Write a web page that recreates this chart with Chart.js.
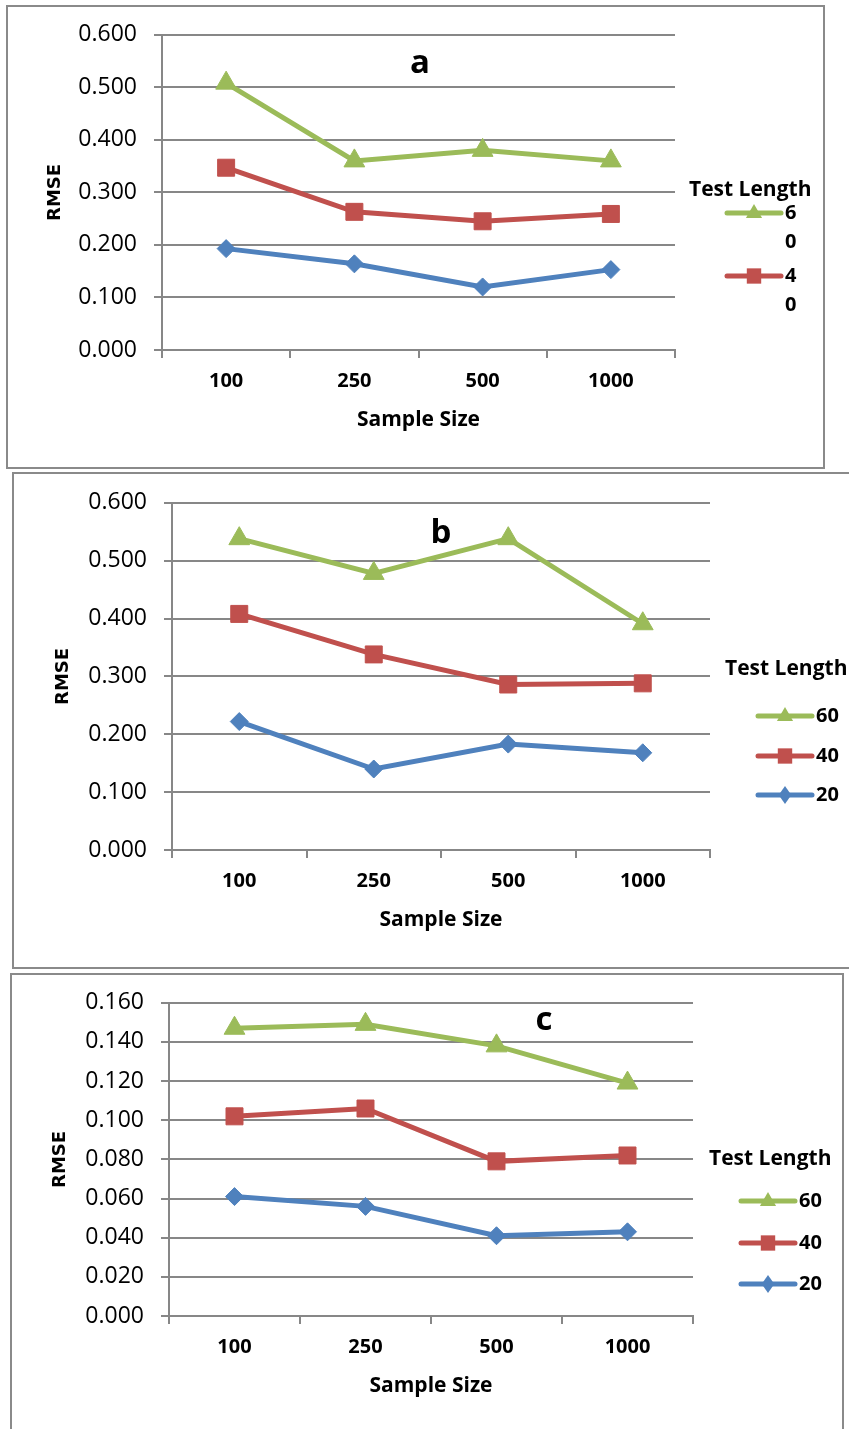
<!DOCTYPE html>
<html lang="en">
<head>
<meta charset="UTF-8">
<title>RMSE by Sample Size and Test Length</title>
<style>
    html, body {
        margin: 0;
        padding: 0;
        background: #fff;
        width: 849px;
        height: 1429px;
        overflow: hidden;
    }
    .frame {
        position: absolute;
        border: 2px solid #8a8a8a;
        box-sizing: border-box;
    }
    canvas {
        position: absolute;
        left: 0;
    }
</style>
<script src="https://cdn.jsdelivr.net/npm/chart.js"></script>
</head>
<body>
<div class="frame" style="left:6px;top:5px;width:819px;height:464px"></div>
<div class="frame" style="left:12px;top:472px;width:845px;height:497px"></div>
<div class="frame" style="left:10px;top:973px;width:834px;height:470px"></div>

<canvas id="chartA" width="849" height="446" style="top:4px"></canvas>
<canvas id="chartB" width="849" height="478" style="top:472px"></canvas>
<canvas id="chartC" width="849" height="444" style="top:972px"></canvas>

<script>
// data
const sampleSizes = ['100', '250', '500', '1000'];
const testLengths = ['20', '40', '60'];

const rmseA20 = [0.193, 0.164, 0.120, 0.153];
const rmseA40 = [0.347, 0.263, 0.245, 0.259];
const rmseA60 = [0.508, 0.360, 0.380, 0.360];

const rmseB20 = [0.222, 0.140, 0.183, 0.168];
const rmseB40 = [0.408, 0.338, 0.286, 0.288];
const rmseB60 = [0.538, 0.478, 0.538, 0.391];

const rmseC20 = [0.061, 0.056, 0.041, 0.043];
const rmseC40 = [0.102, 0.106, 0.079, 0.082];
const rmseC60 = [0.147, 0.149, 0.138, 0.119];

const yTicksA = [0, 0.1, 0.2, 0.3, 0.4, 0.5, 0.6];
const yTicksC = [0, 0.02, 0.04, 0.06, 0.08, 0.1, 0.12, 0.14, 0.16];

// look of each test length series
const seriesColor = { '20': '#4F81BD', '40': '#C0504D', '60': '#9BBB59' };
const seriesMarker = { '20': 'rectRot', '40': 'rect', '60': 'triangle' };
const seriesRadius = { '20': 9, '40': 12, '60': 12 };

const GRID = '#878787';
const FONT = '"Open Sans", "Liberation Sans", sans-serif';

// draws the small marker shapes used in the side legend
function legendMarker(ctx, style, x, y, r) {
    ctx.beginPath();
    if (style === 'triangle') {
        ctx.moveTo(x, y - r);
        ctx.lineTo(x + r * 0.9, y + r * 0.55);
        ctx.lineTo(x - r * 0.9, y + r * 0.55);
    } else if (style === 'rect') {
        ctx.rect(x - r * 0.8, y - r * 0.85, r * 1.6, r * 1.7);
    } else {
        ctx.moveTo(x, y - r);
        ctx.lineTo(x + r * 0.7, y);
        ctx.lineTo(x, y + r);
        ctx.lineTo(x - r * 0.7, y);
    }
    ctx.closePath();
    ctx.fill();
}

// "Test Length" legend on the right side of each panel
const sideLegend = {
    id: 'sideLegend',
    afterDraw(chart, args, o) {
        const ctx = chart.ctx;
        ctx.save();
        ctx.translate(0, -o.top);
        ctx.fillStyle = '#000';
        ctx.font = 'bold 21px ' + FONT;
        ctx.textBaseline = 'alphabetic';
        ctx.textAlign = 'left';
        ctx.fillText('Test Length', o.headX, o.headY);

        const items = chart.data.datasets.slice().reverse().slice(0, o.count);
        items.forEach((ds, i) => {
            const y = o.rows[i];
            ctx.strokeStyle = ds.borderColor;
            ctx.lineWidth = 5;
            ctx.lineCap = 'round';
            ctx.beginPath();
            ctx.moveTo(o.lineX0, y);
            ctx.lineTo(o.lineX1, y);
            ctx.stroke();
            ctx.fillStyle = ds.borderColor;
            legendMarker(ctx, ds.pointStyle, (o.lineX0 + o.lineX1) / 2, y, 9);

            ctx.fillStyle = '#000';
            ctx.font = 'bold 20px ' + FONT;
            ctx.textBaseline = 'middle';
            if (o.wrap) {
                ds.label.split('').forEach((ch, k) => ctx.fillText(ch, o.textX, y + k * o.wrap));
            } else {
                ctx.fillText(ds.label, o.textX, y);
            }
        });
        ctx.restore();
    }
};

// the panel letter inside the plot
const panelLetter = {
    id: 'panelLetter',
    afterDraw(chart, args, o) {
        const ctx = chart.ctx;
        ctx.save();
        ctx.fillStyle = '#000';
        ctx.font = 'bold 33px ' + FONT;
        ctx.textAlign = 'center';
        ctx.textBaseline = 'alphabetic';
        ctx.fillText(o.text, o.x, o.y - o.top);
        ctx.restore();
    }
};

function makePanel(id, values, yTicks, box) {
    const xH = 100;
    const canvas = document.getElementById(id);
    const datasets = testLengths.map((t, i) => ({
        label: t,
        data: values[i],
        borderColor: seriesColor[t],
        backgroundColor: seriesColor[t],
        borderWidth: 5,
        pointStyle: seriesMarker[t],
        pointRadius: seriesRadius[t],
        pointBorderWidth: 1,
        tension: 0,
        fill: false
    }));

    return new Chart(canvas, {
        type: 'line',
        data: { labels: sampleSizes, datasets: datasets },
        options: {
            responsive: false,
            animation: false,
            devicePixelRatio: 1,
            layout: {
                padding: {
                    left: 0,
                    right: 849 - box.right,
                    top: box.plotTop - box.top,
                    bottom: canvas.height - (box.plotBottom - box.top) - xH
                }
            },
            scales: {
                x: {
                    offset: true,
                    afterFit: s => { s.height = xH; },
                    grid: {
                        offset: true,
                        drawOnChartArea: false,
                        drawTicks: true,
                        tickLength: 8,
                        color: GRID,
                        lineWidth: 2
                    },
                    border: { display: true, color: GRID, width: 2 },
                    ticks: {
                        color: '#000',
                        padding: 11,
                        font: { family: FONT, size: 20, weight: 'bold', lineHeight: 1.2 }
                    },
                    title: {
                        display: true,
                        text: 'Sample Size',
                        color: '#000',
                        padding: { top: 0, bottom: 17 },
                        font: { family: FONT, size: 21, weight: 'bold', lineHeight: 1.2 }
                    }
                },
                y: {
                    min: yTicks[0],
                    max: yTicks[yTicks.length - 1],
                    afterFit: s => { s.width = box.left; },
                    afterBuildTicks: s => { s.ticks = yTicks.map(v => ({ value: v })); },
                    grid: {
                        color: GRID,
                        lineWidth: 2,
                        tickLength: 8
                    },
                    border: { display: true, color: GRID, width: 2 },
                    ticks: {
                        color: '#000',
                        padding: 17,
                        font: { family: FONT, size: 23, lineHeight: 1.2 },
                        callback: v => Number(v).toFixed(3)
                    },
                    title: {
                        display: true,
                        text: 'RMSE',
                        color: '#000',
                        padding: { top: box.yTitleX - 10.8, bottom: 0 },
                        font: { family: '"DejaVu Sans", sans-serif', size: 18, weight: 'bold', lineHeight: 1.2 }
                    }
                }
            },
            plugins: {
                legend: { display: false },
                tooltip: { enabled: false },
                sideLegend: Object.assign({ top: box.top }, box.legend),
                panelLetter: Object.assign({ top: box.top }, box.letter)
            }
        },
        plugins: [sideLegend, panelLetter]
    });
}

makePanel('chartA', [rmseA20, rmseA40, rmseA60], yTicksA, {
    top: 4, left: 162, right: 675, plotTop: 34, plotBottom: 350, yTitleX: 55,
    letter: { text: 'a', x: 420, y: 73 },
    legend: { headX: 689, headY: 196, lineX0: 727, lineX1: 781, textX: 785, rows: [213, 276], count: 2, wrap: 29 }
});

makePanel('chartB', [rmseB20, rmseB40, rmseB60], yTicksA, {
    top: 472, left: 172, right: 710, plotTop: 502, plotBottom: 850, yTitleX: 63,
    letter: { text: 'b', x: 441, y: 543 },
    legend: { headX: 725, headY: 675, lineX0: 758, lineX1: 812, textX: 816, rows: [716, 756, 795], count: 3 }
});

makePanel('chartC', [rmseC20, rmseC40, rmseC60], yTicksC, {
    top: 972, left: 169, right: 693, plotTop: 1002, plotBottom: 1316, yTitleX: 60,
    letter: { text: 'c', x: 544, y: 1030 },
    legend: { headX: 709, headY: 1165, lineX0: 741, lineX1: 795, textX: 799, rows: [1201, 1243, 1284], count: 3 }
});
</script>
</body>
</html>
